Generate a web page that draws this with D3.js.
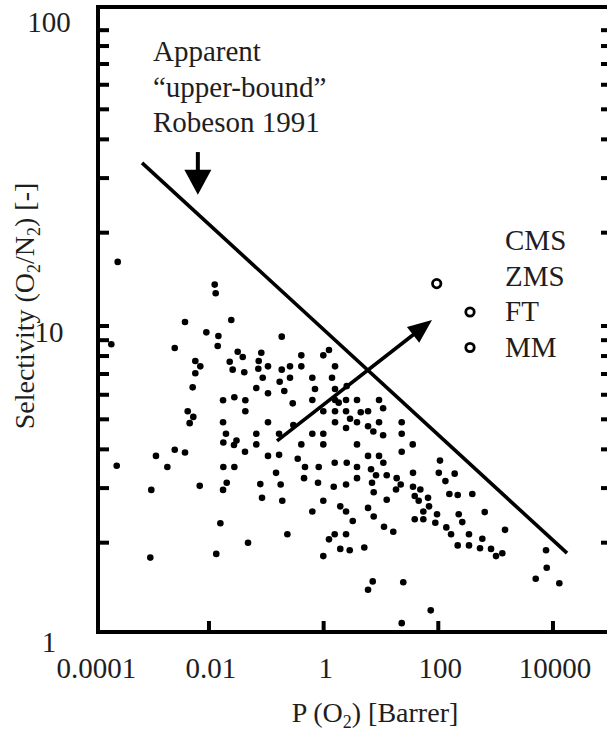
<!DOCTYPE html>
<html>
<head>
<meta charset="utf-8">
<script src="https://cdn.jsdelivr.net/npm/d3@7"></script>
<style>
  html, body { margin: 0; padding: 0; background: #fff; }
  svg { display: block; }
  text { font-family: "Liberation Serif", "Times New Roman", serif; fill: #1e1e1e; }
</style>
</head>
<body>
<svg id="chart" width="607" height="736"></svg>
<script>
// O2 permeability [Barrer] and O2/N2 selectivity
const cmsPoints = [
  [2.56e-4, 16.1], [0.0126, 13.6], [0.0131, 12.75], [0.0245, 10.46], [0.00382, 10.3],
  [1.98e-4, 8.73], [0.0090, 9.54], [0.0146, 9.28], [0.0142, 8.62], [0.00253, 8.49],
  [0.0317, 8.26], [0.0388, 7.94], [0.0818, 8.20], [0.00578, 7.71], [0.00706, 7.41],
  [0.0230, 7.67], [0.0737, 7.71], [0.0726, 7.28], [0.0259, 7.23], [0.0413, 7.09],
  [0.00578, 7.04], [0.0866, 6.81], [0.0052, 6.34], [0.0669, 6.31], [0.0176, 5.76],
  [0.0277, 5.89], [0.0431, 5.76], [0.0431, 5.31], [0.00426, 5.31], [0.00533, 5.09],
  [0.00461, 4.86], [0.0176, 4.89], [0.0198, 4.49], [0.0669, 4.49], [0.0178, 4.21],
  [0.0302, 4.27], [0.0273, 4.13], [0.0669, 4.15], [0.00253, 3.99], [0.00382, 3.91],
  [0.00119, 3.81], [0.0425, 3.93], [2.46e-4, 3.54], [0.00188, 3.51], [0.0178, 3.51],
  [0.0277, 3.51], [9.87e-4, 2.96], [0.0069, 3.05], [0.0204, 3.12], [0.0176, 2.96],
  [0.0786, 3.09], [0.0842, 2.79], [0.0158, 2.31], [0.048, 2.0], [9.48e-4, 1.79],
  [0.0134, 1.84], [0.186, 9.24], [1.24, 8.37], [0.987, 8.04], [0.408, 8.04],
  [0.107, 7.41], [0.259, 7.41], [0.408, 7.41], [0.186, 7.23], [1.58, 7.41],
  [0.171, 6.61], [0.259, 6.81], [0.635, 6.81], [1.40, 6.81], [0.206, 6.17],
  [0.107, 6.07], [0.707, 6.26], [1.58, 6.26], [2.53, 6.40], [0.289, 5.63],
  [0.635, 5.77], [1.58, 5.77], [1.83, 5.66], [2.46, 5.77], [3.82, 5.77],
  [9.25, 5.77], [10.9, 5.43], [0.987, 5.31], [1.58, 5.31], [2.46, 5.31],
  [4.44, 5.27], [5.95, 5.31], [2.89, 5.02], [3.82, 4.89], [1.58, 4.89],
  [9.25, 4.89], [23.0, 4.89], [0.107, 4.89], [0.296, 4.79], [2.46, 4.69],
  [5.95, 4.75], [7.36, 4.57], [10.9, 4.44], [23.0, 4.49], [0.167, 4.49],
  [0.635, 4.49], [0.987, 4.49], [0.408, 4.15], [0.987, 4.15], [3.82, 4.15],
  [35.8, 4.15], [0.107, 3.81], [0.167, 3.84], [0.353, 3.73], [0.473, 3.51],
  [0.821, 3.51], [1.56, 3.62], [2.53, 3.62], [3.82, 3.51], [5.95, 3.81],
  [9.25, 3.81], [11.0, 3.62], [23.0, 3.93], [6.71, 3.45], [8.20, 3.30],
  [12.6, 3.30], [18.8, 3.23], [22.1, 3.08], [18.3, 2.97], [36.2, 3.36],
  [36.2, 3.03], [48.6, 2.97], [38.8, 2.83], [45.5, 2.73], [0.148, 3.36],
  [0.455, 3.23], [0.798, 3.12], [1.50, 3.03], [2.46, 3.08], [3.82, 3.23],
  [6.98, 3.12], [7.47, 2.91], [12.6, 2.75], [0.178, 3.08], [0.190, 2.73],
  [0.987, 2.73], [0.635, 2.52], [1.95, 2.62], [2.46, 2.52], [3.22, 2.35],
  [5.95, 2.59], [7.47, 2.43], [11.3, 2.25], [16.4, 2.17], [54.8, 2.52],
  [38.8, 2.38], [54.8, 2.38], [0.233, 2.13], [1.56, 2.13], [2.46, 2.13],
  [1.24, 2.05], [1.95, 1.91], [2.85, 1.89], [5.12, 1.93], [0.987, 1.81],
  [7.18, 1.50], [5.95, 1.41], [24.5, 1.49], [23.0, 1.10], [107, 3.68],
  [102, 3.36], [193, 3.34], [133, 3.16], [156, 2.87], [218, 2.85],
  [392, 2.87], [66.2, 2.79], [68.9, 2.62], [95.0, 2.47], [88.7, 2.32],
  [227, 2.47], [262, 2.33], [645, 2.51], [138, 2.24], [167, 2.13],
  [343, 2.13], [1458, 2.20], [218, 1.96], [343, 1.96], [586, 2.06],
  [534, 1.92], [831, 1.91], [1308, 1.85], [1016, 1.81], [7568, 1.89],
  [7782, 1.66], [5003, 1.53], [12910, 1.48], [73.8, 1.21]
];
const zmsPoints = [[93.8, 13.7]];
const robesonBound = [[6.8e-4, 33.6], [17600, 1.85]];
const boundArrow = [[0.0064, 36.4], [0.0064, 26.5]];
const trendArrow = [[0.154, 4.26], [77.7, 10.45]];

const xTickValues = [1e-4, 1e-2, 1, 100, 1e4];
const xTickLabels = ["0.0001", "0.01", "1", "100", "10000"];
const yTickValues = [1, 10, 100];
const yTickLabels = ["1", "10", "100"];
const yMinorTicks = [2, 3, 4, 5, 6, 7, 8, 9, 10, 20, 30, 40, 50, 60, 70, 80, 90];
const legendLabels = ["CMS", "ZMS", "FT", "MM"];
const legendSymbols = [null, null, "open", "open"];
const noteLines = ["Apparent", "\u201Cupper-bound\u201D", "Robeson 1991"];

(function () {
  "use strict";

  const svg = d3.select("#chart");
  const frame = { left: 98, right: 612, top: 7, bottom: 632 };
  const ink = "#000";
  const labelSize = 29;

  const x = d3.scaleLog().domain([1e-4, 1e5]).range([94.3, 610.3]);
  const y = d3.scaleLog().domain([1, 100]).range([636, 16]);

  // frame
  svg.append("path")
    .attr("d", `M${frame.left},${frame.top}H${frame.right}V${frame.bottom}H${frame.left}Z`)
    .attr("fill", "none")
    .attr("stroke", ink)
    .attr("stroke-width", 4);

  // inward ticks on left and right
  const tickLen = 11;
  svg.append("g").selectAll("line")
    .data(yMinorTicks)
    .join("line")
    .attr("x1", frame.left)
    .attr("x2", frame.left + tickLen)
    .attr("y1", d => y(d))
    .attr("y2", d => y(d))
    .attr("stroke", ink)
    .attr("stroke-width", 4);

  svg.append("g").selectAll("line")
    .data(yMinorTicks)
    .join("line")
    .attr("x1", frame.right)
    .attr("x2", frame.right - tickLen)
    .attr("y1", d => y(d))
    .attr("y2", d => y(d))
    .attr("stroke", ink)
    .attr("stroke-width", 4);

  svg.append("g").selectAll("line")
    .data(xTickValues.slice(1))
    .join("line")
    .attr("x1", d => x(d))
    .attr("x2", d => x(d))
    .attr("y1", frame.bottom)
    .attr("y2", frame.bottom - tickLen)
    .attr("stroke", ink)
    .attr("stroke-width", 4);

  // tick labels
  svg.append("g").selectAll("text")
    .data(xTickValues)
    .join("text")
    .attr("x", d => x(d) + 2)
    .attr("y", 678)
    .attr("text-anchor", "middle")
    .attr("font-size", labelSize)
    .text((d, i) => xTickLabels[i]);

  svg.append("g").selectAll("text")
    .data(yTickValues)
    .join("text")
    .attr("x", 49)
    .attr("y", d => y(d) + 16)
    .attr("text-anchor", "middle")
    .attr("font-size", labelSize)
    .text((d, i) => yTickLabels[i]);

  // axis titles
  const xTitle = svg.append("text")
    .attr("x", 375)
    .attr("y", 722)
    .attr("text-anchor", "middle")
    .attr("font-size", 28);
  xTitle.append("tspan").text("P (O");
  xTitle.append("tspan").attr("font-size", 18).attr("dy", 6).text("2");
  xTitle.append("tspan").attr("dy", -6).text(") [Barrer]");

  const yTitle = svg.append("text")
    .attr("transform", "translate(34,306) rotate(-90)")
    .attr("text-anchor", "middle")
    .attr("font-size", 28);
  yTitle.append("tspan").text("Selectivity (O");
  yTitle.append("tspan").attr("font-size", 18).attr("dy", 6).text("2");
  yTitle.append("tspan").attr("dy", -6).text("/N");
  yTitle.append("tspan").attr("font-size", 18).attr("dy", 6).text("2");
  yTitle.append("tspan").attr("dy", -6).text(") [-]");

  // data
  svg.append("g").selectAll("circle")
    .data(cmsPoints)
    .join("circle")
    .attr("cx", d => x(d[0]))
    .attr("cy", d => y(d[1]))
    .attr("r", 3.3)
    .attr("fill", ink);

  svg.append("g").selectAll("circle")
    .data(zmsPoints)
    .join("circle")
    .attr("cx", d => x(d[0]))
    .attr("cy", d => y(d[1]))
    .attr("r", 4.2)
    .attr("fill", "#fff")
    .attr("stroke", ink)
    .attr("stroke-width", 2.8);

  // Robeson bound
  svg.append("path")
    .datum(robesonBound)
    .attr("d", d3.line().x(d => x(d[0])).y(d => y(d[1])))
    .attr("fill", "none")
    .attr("stroke", ink)
    .attr("stroke-width", 3.6);

  function arrow(pts, width, headLen, headHalf) {
    const [x0, y0] = [x(pts[0][0]), y(pts[0][1])];
    const [x1, y1] = [x(pts[1][0]), y(pts[1][1])];
    const len = Math.hypot(x1 - x0, y1 - y0);
    const ux = (x1 - x0) / len, uy = (y1 - y0) / len;
    const bx = x1 - ux * headLen, by = y1 - uy * headLen;
    svg.append("line")
      .attr("x1", x0).attr("y1", y0)
      .attr("x2", bx + ux).attr("y2", by + uy)
      .attr("stroke", ink)
      .attr("stroke-width", width);
    svg.append("path")
      .attr("d", `M${x1},${y1}L${bx - uy * headHalf},${by + ux * headHalf}L${bx + uy * headHalf},${by - ux * headHalf}Z`)
      .attr("fill", ink);
  }

  arrow(boundArrow, 4, 25, 13.5);
  arrow(trendArrow, 3.6, 24, 10);

  // annotation
  svg.append("g").selectAll("text")
    .data(noteLines)
    .join("text")
    .attr("x", 153)
    .attr("y", (d, i) => 61 + i * 35.5)
    .attr("font-size", labelSize)
    .text(d => d);

  // legend
  const legend = svg.append("g").selectAll("g")
    .data(legendLabels)
    .join("g")
    .attr("transform", (d, i) => `translate(505,${250 + i * 35.5})`);

  legend.append("text")
    .attr("font-size", labelSize)
    .text(d => d);

  legend.filter((d, i) => legendSymbols[i] === "open")
    .append("circle")
    .attr("cx", -35)
    .attr("cy", -9)
    .attr("r", 4.2)
    .attr("fill", "#fff")
    .attr("stroke", ink)
    .attr("stroke-width", 2.8);
})();
</script>
</body>
</html>
